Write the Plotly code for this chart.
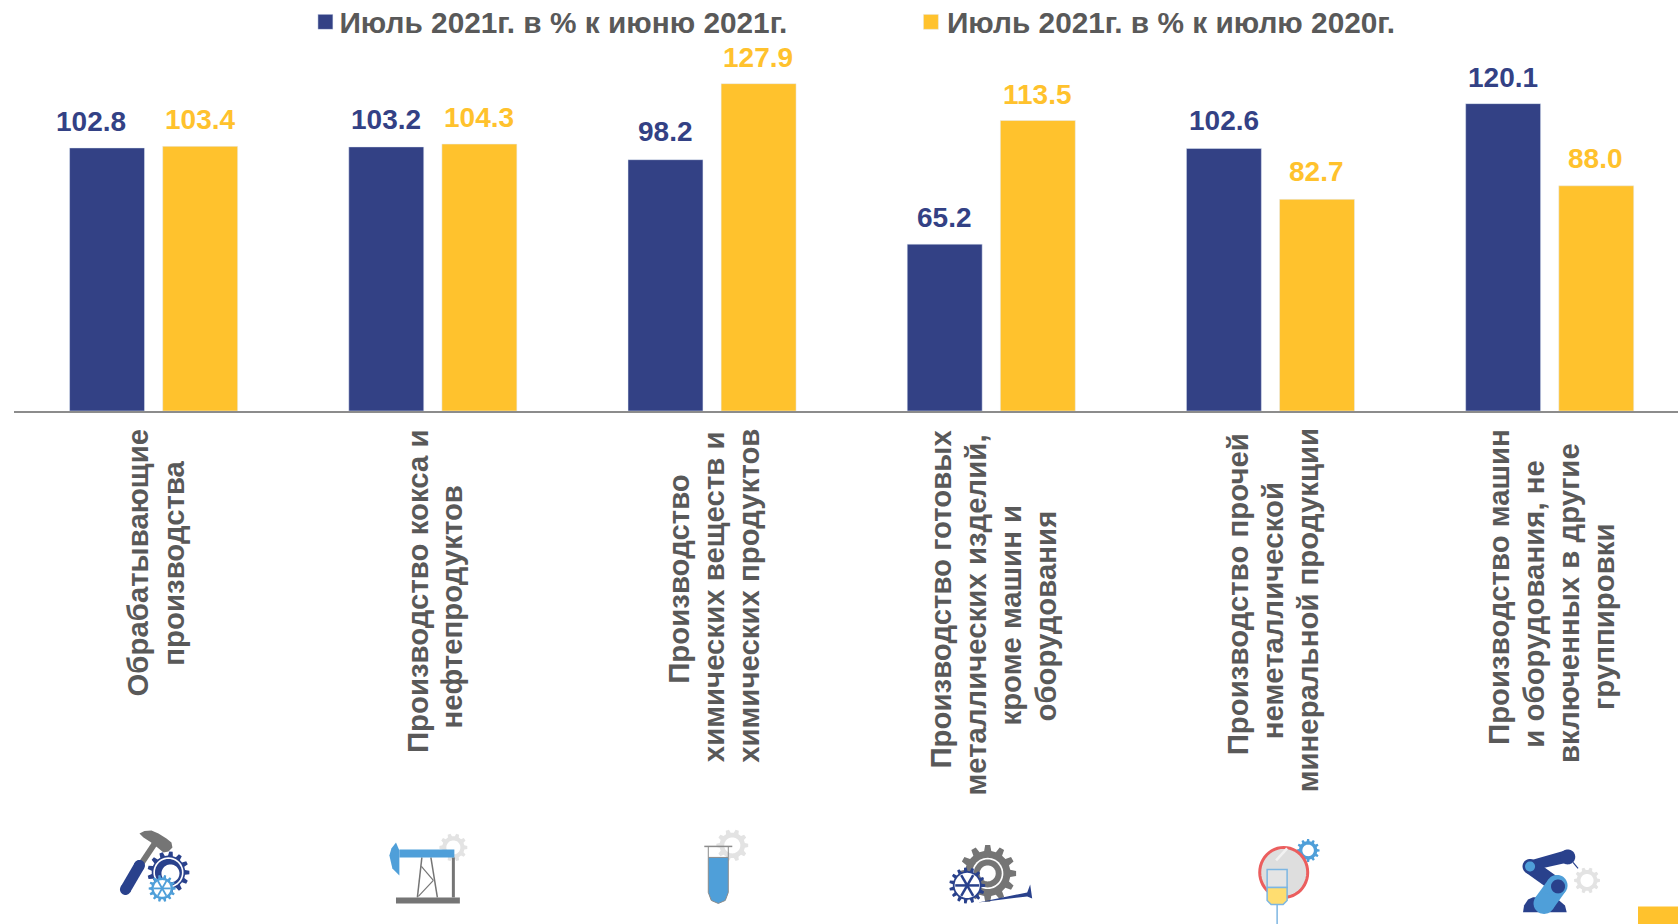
import math
import plotly.graph_objects as go

categories = [
    ["Обрабатывающие", "производства"],
    ["Производство кокса и", "нефтепродуктов"],
    ["Производство", "химических веществ и", "химических продуктов"],
    ["Производство готовых", "металлических изделий,", "кроме машин и", "оборудования"],
    ["Производство прочей", "неметаллической", "минеральной продукции"],
    ["Производство машин", "и оборудования, не", "включенных в другие", "группировки"],
]
series_a_name = "Июль 2021г. в % к июню 2021г."
series_b_name = "Июль 2021г. в % к июлю 2020г."
series_a = [102.8, 103.2, 98.2, 65.2, 102.6, 120.1]
series_b = [103.4, 104.3, 127.9, 113.5, 82.7, 88.0]
positions = [0, 1, 2, 3, 4, 5]

BLUE, YELLOW, GREY = "#334185", "#FFC22D", "#595959"
FONT = "Liberation Sans"
W, H = 1678, 924
L, BASE = 13.5, 410.8
PW, PH = W - L, BASE


def X(p):
    return (p - L) / PW


def Y(p):
    return (BASE - p) / PH


def poly(points, fill, line=None, lw=0):
    d = "M" + " L".join(f"{X(a):.5f},{Y(b):.5f}" for a, b in points) + " Z"
    return dict(type="path", xref="paper", yref="paper", path=d, fillcolor=fill,
                line=dict(color=line or fill, width=lw), layer="above")


def circle(cx, cy, r, fill, line=None, lw=0, ry=None):
    ry = ry or r
    pts = [(cx + r * math.cos(i * math.pi / 24), cy + ry * math.sin(i * math.pi / 24)) for i in range(48)]
    return poly(pts, fill, line, lw)


def gear(cx, cy, r, teeth, fill, hole=0.55):
    pts = []
    for i in range(teeth):
        a = 2 * math.pi * i / teeth
        s = 2 * math.pi / teeth
        for da, rr in [(-0.30, 0.8), (-0.17, 1.0), (0.17, 1.0), (0.30, 0.8)]:
            pts.append((cx + r * rr * math.cos(a + da * s), cy + r * rr * math.sin(a + da * s)))
    return [poly(pts, fill), circle(cx, cy, r * hole, "white")]


def stroke(x0, y0, x1, y1, w, color):
    return dict(type="line", xref="paper", yref="paper", x0=X(x0), y0=Y(y0), x1=X(x1), y1=Y(y1),
                line=dict(color=color, width=w), layer="above")


def capsule(x0, y0, x1, y1, w, color):
    return [stroke(x0, y0, x1, y1, w, color), circle(x0, y0, w / 2, color), circle(x1, y1, w / 2, color)]


def spokes(cx, cy, r, n, w, color):
    return [stroke(cx - r * math.cos(i * math.pi / n), cy - r * math.sin(i * math.pi / n),
                   cx + r * math.cos(i * math.pi / n), cy + r * math.sin(i * math.pi / n), w, color)
            for i in range(n)]


ICON_BLUE, ICON_DARK, ICON_GREY, ICON_LIGHT = "#4F9FD9", "#29418C", "#757575", "#E3E3E3"
shapes = []

# icon 1: hammer + gears
shapes += [stroke(155, 842, 141, 863, 6, ICON_GREY)]
shapes += capsule(139, 865, 125, 889, 11, ICON_DARK)
shapes += [poly([(139, 833), (144, 830.5), (151, 830), (158, 833), (166, 838), (171, 842), (172, 847), (168, 851),
                 (163, 852), (157, 847), (150, 841.5), (143, 837)], ICON_GREY)]
shapes += gear(168, 872, 21, 13, ICON_DARK, 0.72)
shapes += [circle(168, 872, 13.5, ICON_DARK), circle(170, 873, 9, "white")]
shapes += gear(161.7, 888, 13.5, 14, ICON_BLUE, 0.62)
shapes += spokes(161.7, 888, 8.5, 3, 1.8, ICON_BLUE)

# icon 2: oil pump
shapes += gear(453, 847, 14, 10, ICON_LIGHT, 0.5)
shapes += [poly([(395.6, 897), (459.5, 897), (459.5, 903), (395.6, 903)], ICON_GREY)]
shapes += [stroke(453, 857, 453, 897, 3, ICON_GREY)]
shapes += [stroke(421.5, 857, 417, 897, 1.5, ICON_GREY), stroke(430.5, 857, 437, 897, 1.5, ICON_GREY),
           stroke(421, 866, 433, 880, 1.2, ICON_GREY), stroke(433, 880, 418, 896, 1.2, ICON_GREY)]
shapes += [poly([(399, 849), (454, 849), (454, 857), (399, 857)], ICON_BLUE)]
shapes += [poly([(395.6, 842), (399, 850), (399, 875), (392, 868), (389, 855), (391, 848)], ICON_BLUE)]

# icon 3: test tube
shapes += gear(732, 845, 16, 10, ICON_LIGHT, 0.5)
shapes += [poly([(708, 857), (728, 857), (728, 892), (725, 900), (718, 903), (711, 900), (708, 892)], ICON_BLUE, "#8C8C8C", 1)]
shapes += [stroke(708, 846, 708, 857, 1, "#8C8C8C"), stroke(728, 846, 728, 857, 1, "#8C8C8C"),
           stroke(704, 846, 732, 846, 1.5, "#8C8C8C")]

# icon 4: gears + horn
shapes += gear(987.5, 873, 28.5, 12, ICON_GREY, 0.55)
shapes += [circle(987.5, 873, 14, ICON_GREY), circle(987.5, 873, 8, "white")]
shapes += [poly([(978, 902), (1027, 892), (1030, 884), (1032, 898), (1027, 896)], ICON_DARK)]
shapes += gear(967, 885, 18, 15, ICON_DARK, 0.7)
shapes += spokes(967, 885, 12, 3, 2.5, ICON_DARK)

# icon 5: mirror + glass
shapes += gear(1308, 850, 11.5, 12, ICON_BLUE, 0.5)
shapes += [circle(1308, 850, 3, "white")]
shapes += [circle(1283.6, 872, 24, "#DEDEDE", "#EB5E5E", 3, ry=25)]
shapes += [stroke(1276, 860, 1287, 848, 2.5, "#F2F2F2")]
shapes += [poly([(1267, 869), (1287, 869), (1287, 887), (1267, 887)], "#E4E4E4", "#7DB6E2", 1.5)]
shapes += [poly([(1267, 887), (1287, 887), (1287, 900), (1283, 904), (1271, 904), (1267, 900)], "#FFDD70", "#7DB6E2", 1.5)]
shapes += [stroke(1277, 904, 1277, 924, 1.5, "#7DB6E2")]

# icon 6: robot arm
shapes += gear(1587, 880, 13, 10, ICON_LIGHT, 0.5)
shapes += [poly([(1530, 860), (1565, 850), (1568, 862), (1532, 870)], ICON_DARK), circle(1567.7, 856.5, 7.5, ICON_DARK),
           stroke(1573, 862, 1578, 868, 1.2, ICON_DARK)]
shapes += [poly([(1523, 911.7), (1524, 905), (1528, 899), (1533, 896.7), (1545, 897), (1558, 899), (1565, 905), (1566.7, 911.7)], ICON_DARK)]
shapes += capsule(1530, 866, 1558, 886, 15, ICON_DARK)
shapes += capsule(1557, 885, 1544, 903, 21, ICON_BLUE)
shapes += [circle(1558, 886, 7, ICON_DARK), circle(1530, 866, 5, ICON_BLUE)]

# corner block
shapes += [poly([(1638, 906), (1678, 906), (1678, 924), (1638, 924)], YELLOW)]

annotations = []
# data labels: shift from the bar's centre and top
BAR_OFFSET = 46.3
shift_a = [(-16.5, 9), (-1, 10), (0, 11), (0, 9), (0, 10), (0, 9)]
shift_b = [(0, 9), (0, 9), (0, 9), (0, 9), (0, 10), (0, 10)]
for i, (va, vb) in enumerate(zip(series_a, series_b)):
    annotations.append(dict(x=positions[i], y=va, xref="x", yref="y", text=f"{va:.1f}", showarrow=False,
                            xshift=-BAR_OFFSET + shift_a[i][0], yshift=shift_a[i][1],
                            yanchor="bottom", font=dict(family=FONT, size=28, color=BLUE, weight="bold")))
    annotations.append(dict(x=positions[i], y=vb, xref="x", yref="y", text=f"{vb:.1f}", showarrow=False,
                            xshift=BAR_OFFSET + shift_b[i][0], yshift=shift_b[i][1],
                            yanchor="bottom", font=dict(family=FONT, size=28, color=YELLOW, weight="bold")))
# category labels: one rotated text per line, so the line pitch can be tighter than the default
LINE_PITCH = 35
LABEL_SHIFT = 1.5
line_centre = [[562.7, 562.8], [591, 606.5], [579, 596.3, 596], [599, 615, 615, 616],
               [594, 610, 610], [587, 603.7, 603, 617]]
for i, lines in enumerate(categories):
    n = len(lines)
    for j, line in enumerate(lines):
        annotations.append(dict(x=positions[i], y=Y(line_centre[i][j]), xref="x", yref="paper", text=line,
                                showarrow=False, textangle=-90, yanchor="middle", xanchor="center",
                                xshift=LABEL_SHIFT + (j - (n - 1) / 2) * LINE_PITCH,
                                font=dict(family=FONT, size=29.4, color=GREY, weight="bold")))

fig = go.Figure()
fig.add_bar(name=series_a_name, x=positions, y=series_a, marker_color=BLUE, hoverinfo="y")
fig.add_bar(name=series_b_name, x=positions, y=series_b, marker_color=YELLOW, hoverinfo="y")
fig.update_layout(
    width=W, height=H, autosize=False, barmode="group", bargap=0.333, bargroupgap=0.195,
    margin=dict(l=L, r=0, t=0, b=H - BASE, pad=0),
    paper_bgcolor="white", plot_bgcolor="white",
    xaxis=dict(range=[-0.5, -0.5 + PW / 279.3], showticklabels=False, ticks="", showgrid=False, zeroline=False,
               showline=True, linecolor="#8C8C8C", linewidth=2),
    yaxis=dict(range=[0, BASE / 2.558], visible=False, fixedrange=True),
    legend=dict(orientation="h", x=X(299), y=1, xanchor="left", yanchor="top", entrywidth=562.5,
                entrywidthmode="pixels", font=dict(family=FONT, size=29.8, color=GREY, weight="bold"),
                bgcolor="rgba(0,0,0,0)"),
    shapes=shapes, annotations=annotations,
)
# page margin off; legend nudged up past the page top (plotly would shrink the plot for that);
# swatches enlarged to the reference's 15 px and moved next to their text
post = """
document.body.style.margin='0';
document.documentElement.style.overflow='hidden';
var gd=document.getElementById('{plot_id}');
function sw(){
 document.querySelectorAll('.legend .legendpoints path').forEach(function(p,i){
  p.setAttribute('d','M7.5,7.5H-7.5V-7.5H7.5Z');p.setAttribute('transform','translate('+(i==0?26:24)+',0)');});
 var g=document.querySelector('.legend');
 if(g&&g.getAttribute('transform')!==g._moved){
  var m=/translate\\(([-\\d.]+),\\s*([-\\d.]+)\\)/.exec(g.getAttribute('transform'));
  if(m){var t='translate('+m[1]+','+(parseFloat(m[2])-4)+')';g.setAttribute('transform',t);g._moved=t;}
 }
}
sw();gd.on('plotly_afterplot',sw);
"""
fig.write_html("out.html", config={"displayModeBar": False}, post_script=post)
